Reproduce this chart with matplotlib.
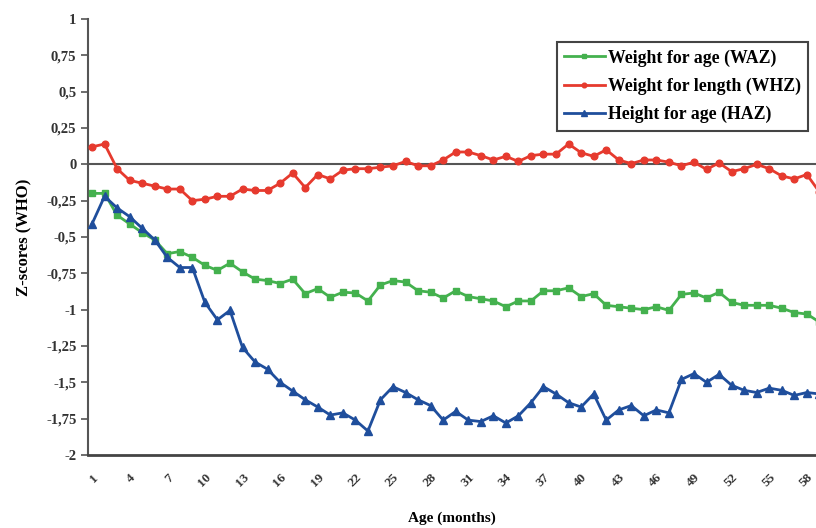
import numpy as np
import matplotlib
matplotlib.use("Agg")
import matplotlib.pyplot as plt
import matplotlib.transforms as mtransforms

plt.rcParams['font.family'] = ['Liberation Serif', 'DejaVu Serif']

# months 1..59 (the chart is cut at the right edge)
months = np.arange(1, 60)

waz = [-0.20, -0.20, -0.35, -0.41, -0.47, -0.52, -0.615, -0.60, -0.64, -0.695,
       -0.73, -0.68, -0.74, -0.79, -0.80, -0.82, -0.79, -0.89, -0.855, -0.915,
       -0.88, -0.885, -0.94, -0.83, -0.80, -0.81, -0.87, -0.88, -0.92, -0.87,
       -0.91, -0.925, -0.94, -0.98, -0.94, -0.94, -0.87, -0.87, -0.85, -0.91,
       -0.89, -0.97, -0.98, -0.99, -1.00, -0.98, -1.005, -0.895, -0.885, -0.92,
       -0.88, -0.95, -0.97, -0.97, -0.97, -0.99, -1.02, -1.03, -1.085]

whz = [0.12, 0.14, -0.03, -0.11, -0.13, -0.15, -0.17, -0.17, -0.25, -0.24,
       -0.22, -0.22, -0.17, -0.18, -0.18, -0.13, -0.06, -0.16, -0.07, -0.10,
       -0.04, -0.03, -0.03, -0.02, -0.01, 0.02, -0.01, -0.01, 0.03, 0.085,
       0.085, 0.06, 0.03, 0.055, 0.02, 0.06, 0.07, 0.07, 0.14, 0.08,
       0.055, 0.10, 0.03, 0.005, 0.03, 0.03, 0.015, -0.01, 0.015, -0.035,
       0.01, -0.05, -0.03, 0.0, -0.03, -0.08, -0.10, -0.07, -0.19]

haz = [-0.41, -0.22, -0.30, -0.36, -0.44, -0.52, -0.64, -0.71, -0.71, -0.95,
       -1.07, -1.005, -1.26, -1.36, -1.41, -1.50, -1.56, -1.62, -1.67, -1.725,
       -1.71, -1.76, -1.835, -1.62, -1.53, -1.57, -1.62, -1.66, -1.76, -1.70,
       -1.76, -1.77, -1.73, -1.78, -1.73, -1.64, -1.53, -1.58, -1.64, -1.67,
       -1.58, -1.76, -1.69, -1.66, -1.73, -1.69, -1.71, -1.48, -1.44, -1.50,
       -1.445, -1.52, -1.555, -1.57, -1.54, -1.555, -1.59, -1.57, -1.58]

labels = ['Weight for age (WAZ)', 'Weight for length (WHZ)', 'Height for age (HAZ)']
colors = ['#44b14e', '#e63a2e', '#1f4e9c']
yticks = [1, 0.75, 0.5, 0.25, 0, -0.25, -0.5, -0.75, -1, -1.25, -1.5, -1.75, -2]
xticks = list(range(1, 59, 3))

W, H = 816, 528
fig = plt.figure(figsize=(W / 100, H / 100), dpi=100)
ax = fig.add_axes([87.5 / W, 73 / H, 728.5 / W, 436 / H])

ax.axhline(0, color='#555555', lw=1.5, zorder=1)
ax.plot(months, waz, color=colors[0], marker='s', ms=4.8, lw=2, label=labels[0], zorder=3)
ax.plot(months, whz, color=colors[1], marker='o', ms=4.8, lw=2, label=labels[1], zorder=3)
ax.plot(months, haz, color=colors[2], marker='^', ms=5.2, lw=2, label=labels[2], zorder=3)

ax.set_xlim(0.64, 58.73)
ax.set_ylim(-2, 1)

ax.set_yticks(yticks)
ax.set_yticklabels([('%g' % t).replace('.', ',') for t in yticks],
                   fontsize=10.5, fontweight='bold', color='#333333')
ax.set_xticks(xticks)
ax.set_xticklabels([str(t) for t in xticks], rotation=45, ha='right',
                   rotation_mode='anchor', fontsize=9.5, fontweight='bold', color='#333333')
shift = mtransforms.ScaledTranslation(-6 / 100, -3 / 100, fig.dpi_scale_trans)
for lab in ax.get_xticklabels():
    lab.set_transform(lab.get_transform() + shift)
ax.tick_params(axis='x', length=0, pad=12)
ax.tick_params(axis='y', length=5, width=1.2, color='#555555', direction='out', pad=3)

for s in ['top', 'right']:
    ax.spines[s].set_visible(False)
ax.spines['left'].set_color('#555555')
ax.spines['left'].set_linewidth(1.5)
ax.spines['bottom'].set_color('#444444')
ax.spines['bottom'].set_linewidth(2)

ax.set_ylabel('Z-scores (WHO)', fontsize=12, fontweight='bold', labelpad=10)
ax.set_xlabel('Age (months)', fontsize=11, fontweight='bold', labelpad=16)

leg = ax.legend(loc='upper right', bbox_to_anchor=(808 / W, 1 - 42 / H),
                bbox_transform=fig.transFigure, prop={'weight': 'bold', 'size': 12.8},
                frameon=True, fancybox=False, edgecolor='#444444', framealpha=1,
                handlelength=2.3, handletextpad=0.15, labelspacing=0.62, borderpad=0.42,
                borderaxespad=0, markerscale=0.7)
leg.get_frame().set_linewidth(1.5)

fig.savefig('out.png', dpi=100)
